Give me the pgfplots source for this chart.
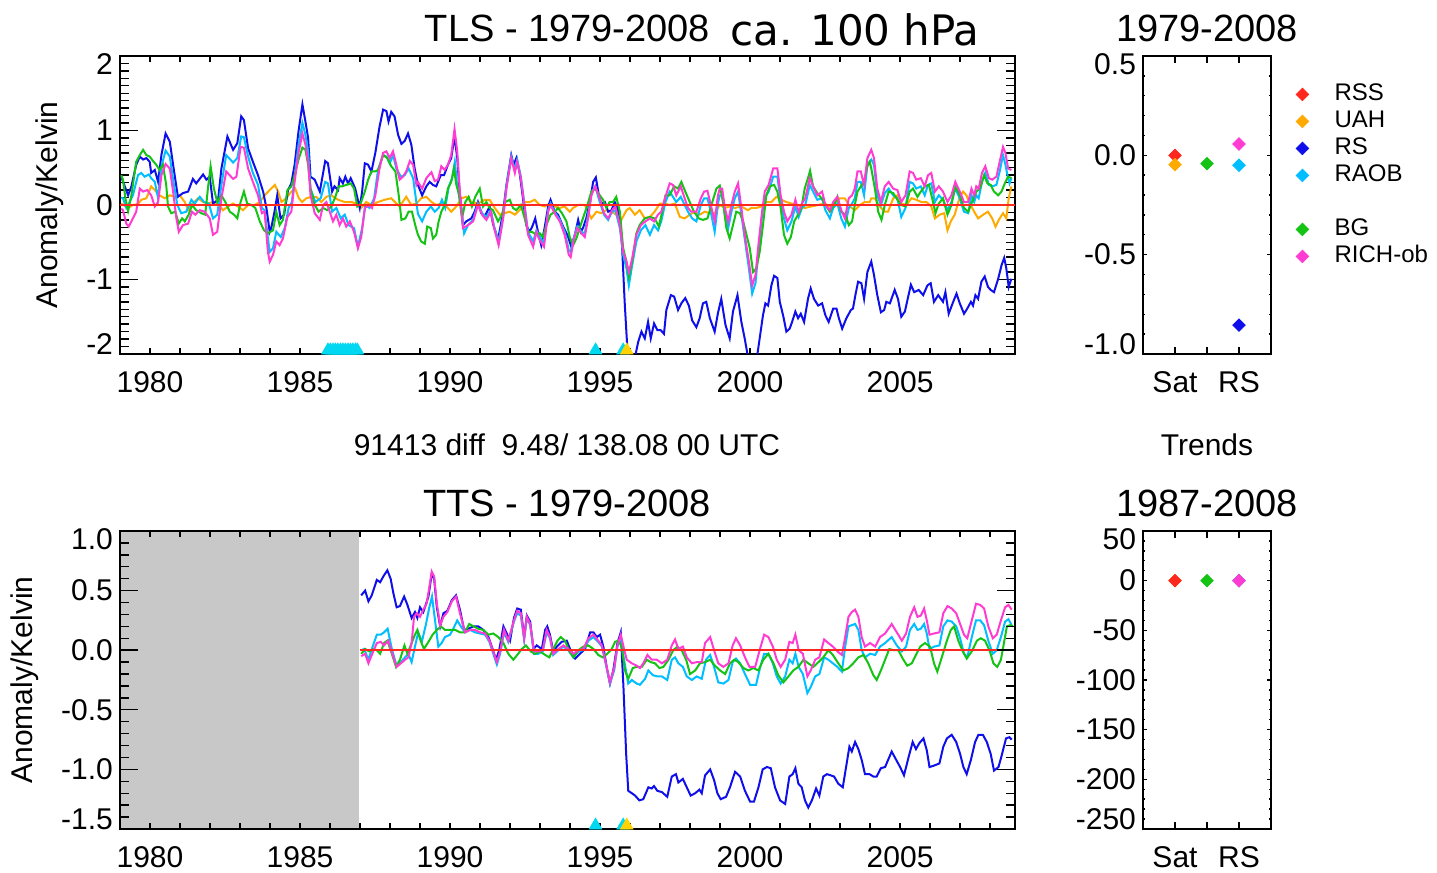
\documentclass[border=0pt]{standalone}
\usepackage{fontspec}
\setmainfont{Liberation Sans}
\newfontfamily\comicfont{DejaVu Sans}
\usepackage{pgfplots}
\pgfplotsset{compat=1.18}
\definecolor{cRSS}{RGB}{255,40,30}
\definecolor{cUAH}{RGB}{255,170,0}
\definecolor{cRS}{RGB}{15,15,235}
\definecolor{cRAOB}{RGB}{0,190,255}
\definecolor{cBG}{RGB}{20,195,20}
\definecolor{cRICH}{RGB}{255,60,210}
\definecolor{cTri}{RGB}{0,215,240}
\definecolor{cYel}{RGB}{255,210,0}
\definecolor{cGray}{RGB}{200,200,200}
\newcommand{\fs}[1]{\fontsize{#1}{#1}\selectfont}
\newcommand{\toplab}[1]{\smash{\raisebox{-9.5pt}{#1}}}
\newcommand{\botlab}[1]{\smash{\raisebox{-0.5pt}{#1}}}
\pgfplotsset{
  every axis/.append style={
    scale only axis, anchor=south west,
    axis line style={line width=0.7pt},
    tick style={line width=0.7pt, black},
    tick label style={font=\fs{15}},
    xticklabel style={yshift=-5pt},
  },
  ts/.style={width=447.5pt, height=149pt, xmin=1979, xmax=2008.83,
    xtick={1980,1985,1990,1995,2000,2005}, xticklabels={1980,1985,1990,1995,2000,2005},
    minor xtick={1979,...,2008},
    xtick style={/pgfplots/major tick length=3pt,/pgfplots/minor tick length=3pt},
    ytick style={/pgfplots/major tick length=9pt,/pgfplots/minor tick length=4.5pt}},
  tr/.style={width=64pt, height=149pt, xmin=0, xmax=4, xtick={1,2,3}, xticklabels={Sat,,RS},
    xtick style={/pgfplots/major tick length=3.5pt,/pgfplots/minor tick length=3.5pt},
    ytick style={/pgfplots/major tick length=2pt,/pgfplots/minor tick length=1pt}},
  ln/.style={line width=1pt},
  dm/.style={only marks, mark=square*, mark size=2.2pt, mark options={rotate=45}},
  tri/.style={only marks, mark=triangle*, mark size=3.6pt},
}
\begin{document}
\begin{tikzpicture}
\useasboundingbox (0,0) rectangle (718.5pt,436.5pt);
% ---------------- TLS time series
\begin{axis}[ts, at={(60pt,259.5pt)}, ymin=-2, ymax=2,
  ytick={-2,-1,0,1,2}, yticklabels={\botlab{-2},-1,0,1,\toplab{2}},
  minor ytick={-1.9,-1.8,...,1.95}]
\addplot[cUAH, ln] coordinates {(1979.04,0.02) (1979.27,-0.04) (1979.43,0.0) (1979.6,0.01) (1979.71,0.07) (1979.88,0.09) (1980.04,0.25) (1980.16,0.20) (1980.32,0.13) (1980.49,0.09) (1980.66,0.13) (1980.82,0.11) (1980.99,0.13) (1981.16,0.04) (1981.27,-0.07) (1981.43,0.02) (1981.6,0.09) (1981.77,0.04) (1981.93,0.02) (1982.1,0.04) (1982.27,0.02) (1982.43,-0.07) (1982.6,-0.02) (1982.77,0.02) (1982.93,-0.02) (1983.1,-0.07) (1983.27,0.0) (1983.49,0.0) (1983.66,0.04) (1983.82,0.13) (1983.99,0.20) (1984.16,0.27) (1984.27,0.18) (1984.38,0.04) (1984.54,0.09) (1984.71,0.18) (1984.84,0.22) (1984.96,0.09) (1985.07,0.04) (1985.21,0.09) (1985.38,0.11) (1985.54,0.11) (1985.71,0.04) (1985.88,0.11) (1986.04,0.13) (1986.27,0.07) (1986.49,0.04) (1986.71,0.04) (1986.88,0.02) (1987.04,-0.04) (1987.21,0.04) (1987.38,0.0) (1987.6,0.04) (1987.82,0.07) (1988.04,0.09) (1988.21,0.02) (1988.32,-0.02) (1988.54,0.11) (1988.71,0.0) (1988.88,0.02) (1989.04,0.09) (1989.21,0.11) (1989.38,0.04) (1989.54,0.0) (1989.71,0.02) (1989.88,-0.02) (1990.04,-0.09) (1990.21,-0.02) (1990.38,0.09) (1990.54,0.11) (1990.71,0.04) (1990.93,0.02) (1991.16,0.07) (1991.32,0.07) (1991.49,-0.04) (1991.66,-0.13) (1991.82,-0.11) (1991.99,-0.09) (1992.16,-0.13) (1992.32,-0.07) (1992.49,0.04) (1992.66,0.04) (1992.82,0.07) (1992.99,0.0) (1993.16,-0.02) (1993.32,0.02) (1993.49,-0.02) (1993.66,-0.04) (1993.82,-0.02) (1993.99,-0.09) (1994.1,-0.04) (1994.27,0.0) (1994.49,0.0) (1994.71,-0.18) (1994.88,-0.09) (1995.04,-0.11) (1995.21,-0.07) (1995.38,-0.09) (1995.54,-0.13) (1995.71,-0.20) (1995.88,-0.07) (1995.99,-0.04) (1996.16,-0.13) (1996.32,-0.07) (1996.49,-0.18) (1996.66,-0.16) (1996.82,-0.09) (1996.99,0.02) (1997.16,0.02) (1997.32,0.0) (1997.49,0.02) (1997.66,-0.16) (1997.82,-0.18) (1997.99,-0.13) (1998.16,-0.09) (1998.32,-0.13) (1998.49,-0.09) (1998.66,-0.11) (1998.82,-0.11) (1998.99,0.0) (1999.16,-0.04) (1999.32,-0.02) (1999.49,-0.04) (1999.71,-0.02) (1999.93,-0.07) (2000.04,-0.04) (2000.21,-0.04) (2000.38,-0.02) (2000.54,0.04) (2000.71,0.04) (2000.88,0.11) (2001.04,0.07) (2001.21,0.04) (2001.38,0.02) (2001.6,0.0) (2001.82,-0.04) (2002.04,-0.02) (2002.27,0.0) (2002.49,0.02) (2002.66,-0.02) (2002.82,0.02) (2002.99,0.09) (2003.16,0.09) (2003.32,-0.02) (2003.49,-0.07) (2003.66,0.0) (2003.82,0.04) (2003.99,0.04) (2004.04,0.09) (2004.16,0.09) (2004.32,-0.02) (2004.49,-0.09) (2004.6,-0.09) (2004.77,0.09) (2004.91,0.13) (2005.04,0.02) (2005.21,0.0) (2005.38,0.09) (2005.54,0.07) (2005.71,0.04) (2005.88,0.04) (2006.04,-0.02) (2006.16,-0.18) (2006.32,-0.13) (2006.47,-0.11) (2006.58,-0.34) (2006.69,-0.22) (2006.82,-0.13) (2006.99,0.11) (2007.1,0.18) (2007.21,0.13) (2007.32,0.02) (2007.47,-0.09) (2007.6,-0.18) (2007.77,-0.13) (2007.93,-0.09) (2008.07,-0.18) (2008.18,-0.29) (2008.29,-0.20) (2008.43,-0.11) (2008.54,-0.18) (2008.62,0.09) (2008.71,0.25)};
\addplot[cRS, ln] coordinates {(1979.04,0.38) (1979.27,0.13) (1979.38,0.25) (1979.54,0.54) (1979.66,0.65) (1979.77,0.61) (1979.88,0.63) (1979.99,0.58) (1980.04,0.43) (1980.16,0.47) (1980.27,0.31) (1980.38,0.67) (1980.52,0.96) (1980.66,0.85) (1980.77,0.54) (1980.93,0.11) (1981.1,0.16) (1981.27,0.18) (1981.43,0.35) (1981.54,0.29) (1981.77,0.41) (1981.88,0.34) (1981.99,0.38) (1982.1,0.02) (1982.27,0.07) (1982.38,0.49) (1982.58,0.92) (1982.77,0.74) (1982.91,0.83) (1983.04,1.19) (1983.13,1.14) (1983.27,0.76) (1983.43,0.58) (1983.6,0.40) (1983.77,0.18) (1983.88,-0.04) (1983.99,-0.36) (1984.04,-0.31) (1984.15,-0.09) (1984.24,0.13) (1984.35,-0.18) (1984.47,-0.13) (1984.6,0.20) (1984.71,0.29) (1984.82,0.54) (1984.95,0.99) (1985.08,1.35) (1985.18,1.12) (1985.27,0.90) (1985.35,0.38) (1985.49,0.34) (1985.66,0.18) (1985.84,0.59) (1985.93,0.56) (1986.07,0.18) (1986.15,0.25) (1986.27,0.20) (1986.32,0.36) (1986.43,0.29) (1986.51,0.38) (1986.6,0.29) (1986.69,0.36) (1986.84,0.22) (1986.99,-0.04) (1987.07,0.18) (1987.16,0.56) (1987.27,0.54) (1987.38,0.45) (1987.51,0.70) (1987.65,1.05) (1987.77,1.28) (1987.88,1.26) (1987.95,1.12) (1988.04,1.25) (1988.15,1.19) (1988.27,0.94) (1988.38,0.82) (1988.49,0.86) (1988.6,0.96) (1988.71,0.81) (1988.82,0.49) (1988.93,0.27) (1989.07,0.13) (1989.21,0.25) (1989.32,0.31) (1989.43,0.27) (1989.54,0.25) (1989.69,0.40) (1989.8,0.40) (1989.93,0.54) (1990.04,0.63) (1990.15,0.92) (1990.24,0.63) (1990.32,0.18) (1990.43,-0.27) (1990.54,-0.22) (1990.71,-0.18) (1990.82,-0.09) (1990.93,0.04) (1991.04,-0.11) (1991.15,-0.16) (1991.32,-0.02) (1991.43,-0.25) (1991.6,-0.47) (1991.77,-0.09) (1991.88,0.27) (1992.04,0.67) (1992.12,0.54) (1992.21,0.63) (1992.32,0.43) (1992.43,0.09) (1992.54,-0.27) (1992.65,-0.36) (1992.74,-0.29) (1992.84,-0.18) (1992.93,-0.36) (1993.04,-0.54) (1993.15,-0.31) (1993.27,-0.02) (1993.35,0.07) (1993.49,-0.09) (1993.6,-0.13) (1993.77,-0.29) (1993.93,-0.42) (1994.04,-0.56) (1994.16,-0.40) (1994.27,-0.20) (1994.36,-0.36) (1994.43,-0.31) (1994.54,-0.18) (1994.66,0.04) (1994.77,0.31) (1994.86,0.37) (1994.96,0.13) (1995.04,0.02) (1995.16,0.04) (1995.27,-0.09) (1995.38,-0.07) (1995.49,0.04) (1995.58,-0.04) (1995.66,-0.18) (1995.73,-0.52) (1995.82,-1.30) (1995.91,-1.93) (1995.99,-2.1) (1996.16,-2.05) (1996.27,-1.84) (1996.38,-1.70) (1996.49,-1.79) (1996.6,-1.57) (1996.69,-1.79) (1996.8,-1.59) (1996.91,-1.68) (1997.02,-1.68) (1997.13,-1.73) (1997.21,-1.41) (1997.36,-1.21) (1997.47,-1.23) (1997.6,-1.41) (1997.71,-1.32) (1997.84,-1.25) (1997.96,-1.35) (1998.07,-1.55) (1998.21,-1.64) (1998.32,-1.52) (1998.43,-1.32) (1998.54,-1.30) (1998.66,-1.52) (1998.82,-1.70) (1998.93,-1.45) (1999.04,-1.26) (1999.18,-1.61) (1999.32,-1.79) (1999.43,-1.43) (1999.58,-1.21) (1999.71,-1.57) (1999.82,-1.79) (1999.93,-2.04) (2000.04,-2.1) (2000.21,-2.1) (2000.32,-1.79) (2000.43,-1.48) (2000.51,-1.32) (2000.6,-1.35) (2000.71,-1.08) (2000.8,-0.95) (2000.91,-0.98) (2000.99,-1.30) (2001.1,-1.48) (2001.21,-1.70) (2001.32,-1.66) (2001.4,-1.57) (2001.51,-1.43) (2001.6,-1.52) (2001.69,-1.46) (2001.8,-1.57) (2001.93,-1.26) (2002.02,-1.12) (2002.13,-1.26) (2002.27,-1.35) (2002.4,-1.32) (2002.51,-1.48) (2002.62,-1.57) (2002.77,-1.39) (2002.88,-1.39) (2002.96,-1.52) (2003.07,-1.66) (2003.21,-1.52) (2003.36,-1.41) (2003.43,-1.39) (2003.51,-1.21) (2003.6,-1.03) (2003.71,-1.05) (2003.8,-1.26) (2003.91,-0.90) (2004.04,-0.76) (2004.13,-0.94) (2004.24,-1.21) (2004.36,-1.44) (2004.47,-1.41) (2004.54,-1.30) (2004.66,-1.32) (2004.82,-1.14) (2004.93,-1.26) (2005.04,-1.50) (2005.16,-1.43) (2005.27,-1.23) (2005.36,-1.07) (2005.47,-1.17) (2005.62,-1.14) (2005.77,-1.21) (2005.91,-1.08) (2006.02,-1.05) (2006.13,-1.30) (2006.27,-1.21) (2006.43,-1.30) (2006.51,-1.17) (2006.62,-1.46) (2006.77,-1.30) (2006.88,-1.19) (2006.99,-1.32) (2007.13,-1.46) (2007.24,-1.39) (2007.36,-1.30) (2007.43,-1.35) (2007.51,-1.21) (2007.6,-1.26) (2007.71,-1.03) (2007.82,-0.96) (2007.93,-1.10) (2008.02,-1.14) (2008.13,-1.17) (2008.27,-0.99) (2008.38,-0.81) (2008.47,-0.71) (2008.54,-0.85) (2008.62,-1.10) (2008.71,-0.99)};
\addplot[cRAOB, ln] coordinates {(1979.04,0.10) (1979.1,0.09) (1979.21,-0.04) (1979.32,0.04) (1979.43,0.13) (1979.6,0.40) (1979.71,0.43) (1979.82,0.38) (1979.96,0.41) (1980.04,0.36) (1980.16,0.31) (1980.27,0.09) (1980.38,0.52) (1980.52,0.73) (1980.66,0.65) (1980.77,0.34) (1980.91,0.0) (1981.04,-0.11) (1981.21,-0.09) (1981.38,0.07) (1981.49,0.02) (1981.66,0.11) (1981.8,0.04) (1981.96,0.02) (1982.1,-0.18) (1982.24,-0.13) (1982.38,0.27) (1982.54,0.67) (1982.77,0.57) (1982.91,0.63) (1983.04,0.92) (1983.13,0.91) (1983.27,0.65) (1983.43,0.43) (1983.6,0.27) (1983.73,-0.04) (1983.82,-0.07) (1983.96,-0.54) (1983.99,-0.63) (1984.1,-0.58) (1984.21,-0.36) (1984.36,-0.43) (1984.49,-0.31) (1984.62,-0.04) (1984.73,0.04) (1984.84,0.45) (1984.95,0.81) (1985.08,1.10) (1985.18,0.94) (1985.27,0.72) (1985.35,0.22) (1985.51,0.04) (1985.69,0.09) (1985.84,0.31) (1985.93,0.29) (1986.07,-0.09) (1986.21,-0.04) (1986.36,-0.18) (1986.49,-0.13) (1986.62,-0.27) (1986.8,-0.31) (1986.93,-0.56) (1987.07,-0.31) (1987.18,0.0) (1987.32,-0.04) (1987.47,0.09) (1987.6,0.47) (1987.77,0.67) (1987.88,0.65) (1987.99,0.56) (1988.1,0.67) (1988.21,0.49) (1988.36,0.38) (1988.49,0.40) (1988.62,0.49) (1988.77,0.36) (1988.93,-0.12) (1989.07,-0.22) (1989.21,-0.09) (1989.36,-0.02) (1989.49,-0.09) (1989.62,-0.04) (1989.73,0.07) (1989.84,-0.04) (1989.96,0.25) (1990.07,0.36) (1990.16,0.58) (1990.24,0.25) (1990.36,0.0) (1990.47,-0.38) (1990.6,-0.27) (1990.77,-0.20) (1990.93,0.02) (1991.07,-0.11) (1991.21,-0.16) (1991.36,-0.07) (1991.47,-0.29) (1991.62,-0.49) (1991.77,-0.16) (1991.88,0.25) (1992.04,0.65) (1992.16,0.47) (1992.24,0.61) (1992.36,0.38) (1992.49,-0.02) (1992.6,-0.36) (1992.77,-0.49) (1992.88,-0.34) (1992.96,-0.40) (1993.13,-0.52) (1993.27,-0.07) (1993.35,0.02) (1993.51,-0.11) (1993.66,-0.20) (1993.82,-0.36) (1993.96,-0.61) (1994.02,-0.63) (1994.13,-0.43) (1994.24,-0.29) (1994.38,-0.36) (1994.49,-0.38) (1994.6,-0.13) (1994.73,0.18) (1994.84,0.25) (1994.99,0.04) (1995.13,-0.13) (1995.27,-0.20) (1995.4,-0.09) (1995.51,-0.07) (1995.66,-0.31) (1995.77,-0.67) (1995.88,-0.85) (1995.96,-1.08) (1996.07,-0.81) (1996.21,-0.49) (1996.36,-0.34) (1996.51,-0.27) (1996.66,-0.40) (1996.8,-0.27) (1996.93,-0.34) (1997.04,-0.22) (1997.18,0.04) (1997.32,0.18) (1997.43,0.11) (1997.54,0.04) (1997.69,0.11) (1997.82,0.0) (1997.93,-0.09) (1998.07,-0.18) (1998.21,-0.22) (1998.36,0.0) (1998.47,0.09) (1998.58,0.09) (1998.69,-0.09) (1998.82,-0.36) (1998.93,0.02) (1998.99,0.13) (1999.07,0.13) (1999.16,-0.13) (1999.27,-0.31) (1999.38,-0.09) (1999.49,0.09) (1999.6,0.18) (1999.71,-0.13) (1999.82,-0.45) (1999.96,-0.85) (2000.07,-1.19) (2000.18,-1.05) (2000.29,-0.58) (2000.4,-0.13) (2000.49,0.09) (2000.62,0.18) (2000.77,0.38) (2000.91,0.38) (2001.02,0.04) (2001.13,-0.18) (2001.24,-0.34) (2001.38,-0.22) (2001.51,-0.02) (2001.62,-0.16) (2001.73,-0.04) (2001.84,0.0) (2001.99,0.27) (2002.1,0.18) (2002.24,0.07) (2002.4,0.09) (2002.51,-0.07) (2002.66,-0.18) (2002.77,-0.04) (2002.91,0.02) (2003.04,-0.18) (2003.16,-0.29) (2003.29,-0.04) (2003.4,0.02) (2003.49,0.09) (2003.58,0.31) (2003.69,0.31) (2003.8,0.13) (2003.91,0.54) (2004.04,0.61) (2004.13,0.54) (2004.24,0.13) (2004.36,0.0) (2004.49,0.16) (2004.62,0.22) (2004.77,0.13) (2004.91,0.09) (2005.04,-0.16) (2005.18,-0.04) (2005.32,0.31) (2005.43,0.29) (2005.54,0.22) (2005.69,0.25) (2005.82,0.13) (2005.93,0.27) (2006.04,0.29) (2006.16,0.04) (2006.29,0.13) (2006.43,0.07) (2006.58,-0.07) (2006.71,0.04) (2006.84,0.22) (2006.99,0.09) (2007.13,-0.09) (2007.27,-0.11) (2007.38,0.13) (2007.47,0.04) (2007.54,0.13) (2007.62,0.09) (2007.73,0.31) (2007.84,0.43) (2007.96,0.27) (2008.07,0.25) (2008.21,0.27) (2008.32,0.45) (2008.43,0.67) (2008.51,0.54) (2008.6,0.36) (2008.65,0.29) (2008.71,0.36)};
\addplot[cBG, ln] coordinates {(1979.04,0.40) (1979.1,0.34) (1979.18,0.09) (1979.27,-0.08) (1979.38,0.13) (1979.54,0.58) (1979.66,0.67) (1979.77,0.74) (1979.88,0.67) (1979.99,0.65) (1980.1,0.59) (1980.21,0.54) (1980.32,0.47) (1980.43,0.54) (1980.54,0.27) (1980.6,-0.02) (1980.71,-0.11) (1980.84,-0.09) (1980.96,-0.25) (1981.07,-0.18) (1981.16,-0.22) (1981.29,-0.13) (1981.4,0.0) (1981.54,-0.07) (1981.71,-0.11) (1981.84,-0.13) (1981.93,0.22) (1982.02,0.52) (1982.13,0.22) (1982.24,0.04) (1982.38,0.13) (1982.51,0.04) (1982.66,-0.09) (1982.8,-0.13) (1982.91,-0.18) (1983.02,0.04) (1983.13,0.18) (1983.24,0.02) (1983.38,0.0) (1983.51,-0.04) (1983.66,-0.22) (1983.8,-0.34) (1983.93,-0.38) (1984.1,-0.34) (1984.21,-0.09) (1984.32,-0.27) (1984.43,-0.20) (1984.58,0.20) (1984.71,0.25) (1984.82,0.40) (1984.95,0.61) (1985.08,0.77) (1985.18,0.74) (1985.27,0.54) (1985.35,0.22) (1985.49,0.0) (1985.62,-0.09) (1985.77,-0.04) (1985.91,-0.07) (1986.04,-0.02) (1986.16,0.09) (1986.29,0.25) (1986.4,0.25) (1986.54,0.27) (1986.69,0.29) (1986.8,0.22) (1986.91,-0.02) (1987.02,0.02) (1987.16,0.18) (1987.27,0.34) (1987.38,0.45) (1987.51,0.45) (1987.6,0.47) (1987.77,0.67) (1987.91,0.63) (1988.04,0.52) (1988.18,0.45) (1988.29,0.13) (1988.38,-0.20) (1988.51,-0.18) (1988.62,-0.09) (1988.73,-0.09) (1988.84,-0.27) (1988.93,-0.40) (1989.04,-0.49) (1989.16,-0.52) (1989.24,-0.29) (1989.36,-0.31) (1989.43,-0.45) (1989.54,-0.40) (1989.62,-0.22) (1989.71,-0.09) (1989.82,0.0) (1989.93,0.22) (1990.04,0.31) (1990.13,0.49) (1990.21,0.27) (1990.29,0.16) (1990.4,-0.18) (1990.51,0.04) (1990.62,0.11) (1990.73,-0.02) (1990.84,0.11) (1990.99,0.22) (1991.1,-0.02) (1991.21,0.04) (1991.32,-0.04) (1991.43,-0.07) (1991.6,-0.22) (1991.73,-0.13) (1991.84,0.04) (1991.99,0.07) (1992.1,-0.04) (1992.21,-0.07) (1992.36,0.0) (1992.49,-0.18) (1992.6,-0.36) (1992.73,-0.36) (1992.88,-0.40) (1992.99,-0.38) (1993.1,-0.43) (1993.21,-0.27) (1993.35,-0.13) (1993.49,-0.09) (1993.6,-0.04) (1993.73,-0.11) (1993.88,-0.22) (1993.99,-0.43) (1994.1,-0.54) (1994.21,-0.45) (1994.32,-0.31) (1994.47,-0.13) (1994.58,0.0) (1994.71,0.18) (1994.84,0.22) (1994.99,0.13) (1995.1,0.07) (1995.21,-0.04) (1995.32,0.04) (1995.43,0.04) (1995.54,0.11) (1995.66,-0.09) (1995.77,-0.58) (1995.88,-0.76) (1995.96,-0.96) (1996.07,-0.76) (1996.21,-0.38) (1996.32,-0.27) (1996.49,-0.18) (1996.66,-0.16) (1996.82,-0.18) (1996.96,-0.29) (1997.07,-0.09) (1997.18,0.13) (1997.32,0.13) (1997.47,0.25) (1997.6,0.22) (1997.71,0.31) (1997.84,0.18) (1997.99,0.04) (1998.13,-0.09) (1998.29,-0.18) (1998.43,-0.20) (1998.58,-0.18) (1998.71,0.0) (1998.88,0.22) (1998.99,0.26) (1999.1,0.04) (1999.21,-0.31) (1999.32,-0.45) (1999.43,-0.27) (1999.54,-0.09) (1999.66,-0.11) (1999.77,-0.22) (1999.88,-0.40) (1999.99,-0.58) (2000.1,-0.90) (2000.21,-0.85) (2000.32,-0.63) (2000.43,-0.27) (2000.54,0.13) (2000.66,0.25) (2000.8,0.27) (2000.91,0.18) (2001.02,-0.04) (2001.13,-0.40) (2001.24,-0.52) (2001.36,-0.43) (2001.47,-0.22) (2001.6,-0.13) (2001.71,-0.04) (2001.82,0.22) (2001.93,0.36) (2002.0,0.46) (2002.1,0.25) (2002.24,0.16) (2002.38,0.09) (2002.51,0.0) (2002.66,-0.09) (2002.8,0.0) (2002.91,0.11) (2003.04,-0.09) (2003.18,-0.13) (2003.29,-0.27) (2003.4,-0.22) (2003.49,0.0) (2003.58,0.18) (2003.69,0.25) (2003.8,0.31) (2003.91,0.52) (2003.99,0.58) (2004.04,0.49) (2004.16,0.22) (2004.27,-0.09) (2004.38,-0.20) (2004.49,0.0) (2004.62,0.18) (2004.77,0.16) (2004.91,0.07) (2005.04,0.0) (2005.18,-0.02) (2005.32,0.18) (2005.43,0.22) (2005.58,0.11) (2005.69,0.18) (2005.82,0.25) (2005.96,0.27) (2006.07,0.09) (2006.18,-0.11) (2006.29,0.02) (2006.43,0.09) (2006.58,-0.13) (2006.71,0.0) (2006.84,0.25) (2006.99,0.13) (2007.13,-0.04) (2007.27,-0.09) (2007.4,0.04) (2007.54,0.18) (2007.66,0.22) (2007.8,0.40) (2007.91,0.29) (2008.02,0.27) (2008.13,0.18) (2008.27,0.13) (2008.38,0.18) (2008.49,0.29) (2008.6,0.38) (2008.71,0.36)};
\addplot[cRICH, ln] coordinates {(1979.04,-0.05) (1979.1,-0.07) (1979.21,-0.25) (1979.29,-0.29) (1979.43,-0.18) (1979.54,-0.09) (1979.66,0.22) (1979.77,0.18) (1979.91,0.20) (1980.04,0.13) (1980.16,-0.02) (1980.27,0.04) (1980.38,0.40) (1980.52,0.55) (1980.66,0.49) (1980.77,0.18) (1980.88,-0.18) (1980.96,-0.36) (1981.1,-0.27) (1981.27,-0.25) (1981.4,-0.09) (1981.51,-0.13) (1981.66,-0.07) (1981.82,-0.09) (1981.99,-0.18) (1982.1,-0.40) (1982.24,-0.36) (1982.38,0.09) (1982.54,0.45) (1982.77,0.35) (1982.88,0.38) (1983.02,0.78) (1983.13,0.77) (1983.27,0.49) (1983.43,0.31) (1983.6,0.13) (1983.73,-0.11) (1983.82,-0.09) (1983.93,-0.63) (1983.99,-0.76) (1984.1,-0.67) (1984.21,-0.49) (1984.32,-0.54) (1984.43,-0.45) (1984.58,-0.16) (1984.71,-0.09) (1984.82,0.31) (1984.95,0.70) (1985.08,0.96) (1985.18,0.81) (1985.27,0.58) (1985.35,0.13) (1985.49,-0.11) (1985.66,-0.20) (1985.77,0.0) (1985.88,0.04) (1985.99,-0.09) (1986.1,-0.22) (1986.21,-0.13) (1986.32,-0.27) (1986.43,-0.18) (1986.54,-0.29) (1986.66,-0.22) (1986.8,-0.36) (1986.93,-0.58) (1987.04,-0.43) (1987.16,-0.04) (1987.29,0.0) (1987.4,-0.04) (1987.51,0.13) (1987.65,0.49) (1987.77,0.70) (1987.88,0.72) (1987.99,0.63) (1988.1,0.72) (1988.21,0.54) (1988.32,0.34) (1988.43,0.38) (1988.54,0.45) (1988.66,0.59) (1988.77,0.54) (1988.88,0.27) (1988.93,0.31) (1989.07,0.22) (1989.21,0.36) (1989.38,0.44) (1989.49,0.32) (1989.6,0.34) (1989.71,0.52) (1989.82,0.47) (1989.93,0.54) (1990.04,0.67) (1990.15,1.02) (1990.24,0.72) (1990.32,0.22) (1990.43,-0.31) (1990.6,-0.27) (1990.77,-0.22) (1990.93,0.0) (1991.07,-0.13) (1991.21,-0.20) (1991.36,-0.09) (1991.47,-0.31) (1991.62,-0.54) (1991.77,-0.18) (1991.88,0.22) (1992.04,0.63) (1992.16,0.43) (1992.24,0.58) (1992.36,0.36) (1992.49,-0.04) (1992.6,-0.40) (1992.77,-0.56) (1992.88,-0.36) (1992.96,-0.45) (1993.13,-0.56) (1993.27,-0.09) (1993.35,0.0) (1993.51,-0.13) (1993.66,-0.22) (1993.82,-0.40) (1993.96,-0.67) (1994.02,-0.70) (1994.13,-0.45) (1994.24,-0.31) (1994.38,-0.38) (1994.49,-0.43) (1994.6,-0.18) (1994.71,0.13) (1994.84,0.25) (1994.99,0.09) (1995.13,-0.11) (1995.27,-0.18) (1995.4,-0.07) (1995.51,-0.02) (1995.66,-0.27) (1995.77,-0.63) (1995.88,-0.76) (1995.96,-0.90) (1996.07,-0.72) (1996.21,-0.40) (1996.36,-0.27) (1996.51,-0.22) (1996.66,-0.18) (1996.8,-0.22) (1996.93,-0.13) (1997.04,-0.09) (1997.18,0.11) (1997.32,0.29) (1997.43,0.27) (1997.54,0.13) (1997.69,0.25) (1997.82,0.09) (1997.93,-0.04) (1998.04,-0.09) (1998.21,-0.09) (1998.36,0.09) (1998.47,0.18) (1998.58,0.19) (1998.69,0.0) (1998.82,-0.22) (1998.93,0.13) (1998.99,0.22) (1999.07,0.22) (1999.16,-0.04) (1999.27,-0.22) (1999.38,0.0) (1999.49,0.18) (1999.6,0.29) (1999.71,-0.04) (1999.82,-0.40) (1999.96,-0.76) (2000.07,-1.08) (2000.18,-0.94) (2000.29,-0.49) (2000.4,-0.09) (2000.49,0.18) (2000.62,0.27) (2000.77,0.49) (2000.91,0.49) (2001.02,0.13) (2001.13,-0.09) (2001.24,-0.22) (2001.38,-0.13) (2001.51,0.07) (2001.62,-0.09) (2001.73,0.02) (2001.84,0.09) (2001.99,0.36) (2002.1,0.25) (2002.24,0.13) (2002.4,0.18) (2002.51,0.0) (2002.66,-0.07) (2002.77,0.04) (2002.91,0.11) (2003.04,-0.07) (2003.16,-0.18) (2003.29,0.09) (2003.4,0.13) (2003.49,0.22) (2003.58,0.45) (2003.69,0.45) (2003.8,0.27) (2003.91,0.63) (2004.04,0.74) (2004.13,0.63) (2004.24,0.22) (2004.36,0.04) (2004.49,0.25) (2004.62,0.31) (2004.77,0.22) (2004.91,0.20) (2005.04,0.04) (2005.18,0.13) (2005.32,0.45) (2005.43,0.43) (2005.54,0.34) (2005.69,0.36) (2005.82,0.25) (2005.93,0.40) (2006.04,0.43) (2006.16,0.18) (2006.29,0.25) (2006.43,0.18) (2006.58,0.04) (2006.71,0.13) (2006.84,0.31) (2006.99,0.18) (2007.13,0.04) (2007.27,0.04) (2007.38,0.22) (2007.47,0.13) (2007.54,0.25) (2007.62,0.22) (2007.73,0.43) (2007.84,0.52) (2007.96,0.36) (2008.07,0.34) (2008.21,0.38) (2008.32,0.58) (2008.43,0.78) (2008.51,0.70) (2008.6,0.49) (2008.71,0.47)};
\addplot[cRSS, line width=1.2pt] coordinates {(1979,0) (2008.83,0)};
\addplot[tri, cTri] coordinates {(1985.93,-1.95) (1986.01,-1.95) (1986.10,-1.95) (1986.18,-1.95) (1986.26,-1.95) (1986.35,-1.95) (1986.43,-1.95) (1986.51,-1.95) (1986.60,-1.95) (1986.68,-1.95) (1986.76,-1.95) (1986.85,-1.95) (1986.91,-1.95) (1994.85,-1.95) (1995.77,-1.95)};
\addplot[tri, cYel] coordinates {(1995.89,-1.95)};
\end{axis}
% ---------------- TLS trends
\begin{axis}[tr, at={(571.5pt,259.5pt)}, ymin=-1, ymax=0.5,
  ytick={-1,-0.5,0,0.5}, yticklabels={\botlab{-1.0},-0.5,0.0,\toplab{0.5}},
  minor ytick={-0.9,-0.8,...,0.45},
  legend style={at={(1.109,0.911)}, anchor=north west, draw=none, fill=none, inner sep=0pt,
    font=\fs{12}, column sep=13pt, row sep=2pt, nodes={inner sep=0pt, text height=9pt, text depth=2.5pt}},
  legend cell align=left]
\addplot[dm, cRSS] coordinates {(1,0.0)}; \addlegendentry{RSS}
\addplot[dm, cUAH] coordinates {(1,-0.047)}; \addlegendentry{UAH}
\addplot[dm, cRS] coordinates {(3,-0.855)}; \addlegendentry{RS}
\addplot[dm, cRAOB] coordinates {(3,-0.05)}; \addlegendentry{RAOB}
\addlegendimage{empty legend}\addlegendentry{~}
\addplot[dm, cBG] coordinates {(2,-0.042)}; \addlegendentry{BG}
\addplot[dm, cRICH] coordinates {(3,0.057)}; \addlegendentry{RICH-ob}
\end{axis}
% ---------------- TTS time series
\begin{axis}[ts, at={(60pt,22pt)}, ymin=-1.5, ymax=1.0, axis on top,
  ytick={-1.5,-1,-0.5,0,0.5,1}, yticklabels={\botlab{-1.5},-1.0,-0.5,0.0,0.5,\toplab{1.0}},
  minor ytick={-1.4,-1.3,...,0.95}]
\addplot[fill=cGray, draw=none] coordinates {(1979,-1.5) (1979,1.0) (1986.97,1.0) (1986.97,-1.5)} -- cycle;
\addplot[cRS, ln] coordinates {(1987.04,0.46) (1987.17,0.50) (1987.28,0.41) (1987.39,0.46) (1987.56,0.59) (1987.67,0.57) (1987.78,0.62) (1987.91,0.67) (1988.02,0.60) (1988.11,0.48) (1988.22,0.36) (1988.33,0.37) (1988.47,0.45) (1988.58,0.38) (1988.72,0.27) (1988.83,0.32) (1988.91,0.27) (1989.0,0.36) (1989.11,0.32) (1989.28,0.45) (1989.39,0.64) (1989.47,0.60) (1989.56,0.36) (1989.67,0.20) (1989.78,0.31) (1989.91,0.33) (1990.06,0.42) (1990.2,0.46) (1990.33,0.34) (1990.47,0.17) (1990.61,0.18) (1990.78,0.20) (1990.94,0.20) (1991.11,0.17) (1991.28,0.11) (1991.42,0.01) (1991.53,-0.08) (1991.64,0.0) (1991.78,0.20) (1991.91,0.13) (1992.0,0.08) (1992.13,0.27) (1992.24,0.35) (1992.36,0.34) (1992.47,0.11) (1992.56,0.29) (1992.67,0.24) (1992.78,0.01) (1992.89,0.04) (1993.06,0.01) (1993.17,0.17) (1993.24,0.20) (1993.33,0.13) (1993.44,-0.01) (1993.56,0.03) (1993.72,0.07) (1993.89,0.08) (1994.0,0.01) (1994.17,-0.07) (1994.33,-0.03) (1994.5,0.01) (1994.67,0.15) (1994.78,0.15) (1994.89,0.11) (1995.0,0.13) (1995.11,0.03) (1995.22,-0.14) (1995.33,-0.28) (1995.44,-0.17) (1995.58,0.06) (1995.69,0.15) (1995.78,-0.31) (1995.87,-0.87) (1995.94,-1.18) (1996.06,-1.20) (1996.17,-1.22) (1996.31,-1.26) (1996.44,-1.25) (1996.61,-1.15) (1996.72,-1.16) (1996.8,-1.14) (1996.91,-1.18) (1997.06,-1.19) (1997.24,-1.23) (1997.39,-1.06) (1997.53,-1.04) (1997.61,-1.11) (1997.76,-1.08) (1997.89,-1.15) (1998.02,-1.22) (1998.17,-1.20) (1998.31,-1.17) (1998.39,-1.20) (1998.5,-1.05) (1998.67,-1.00) (1998.8,-1.09) (1998.91,-1.20) (1999.02,-1.25) (1999.2,-1.23) (1999.33,-1.15) (1999.5,-1.02) (1999.67,-1.06) (1999.83,-1.18) (2000.0,-1.27) (2000.13,-1.27) (2000.28,-1.15) (2000.42,-1.00) (2000.56,-0.98) (2000.69,-0.99) (2000.83,-1.15) (2001.0,-1.26) (2001.17,-1.29) (2001.31,-1.06) (2001.42,-1.04) (2001.51,-0.99) (2001.61,-1.12) (2001.72,-1.15) (2001.83,-1.26) (2001.94,-1.32) (2002.06,-1.26) (2002.2,-1.16) (2002.31,-1.22) (2002.44,-1.06) (2002.56,-1.04) (2002.69,-1.05) (2002.8,-1.06) (2002.94,-1.12) (2003.09,-1.15) (2003.2,-0.98) (2003.31,-0.81) (2003.39,-0.85) (2003.5,-0.77) (2003.61,-0.83) (2003.72,-0.92) (2003.83,-1.04) (2003.98,-1.04) (2004.11,-1.06) (2004.22,-1.06) (2004.36,-0.99) (2004.5,-0.98) (2004.72,-0.85) (2004.87,-0.92) (2005.0,-0.98) (2005.13,-1.05) (2005.28,-0.90) (2005.42,-0.77) (2005.53,-0.83) (2005.64,-0.78) (2005.78,-0.74) (2005.89,-0.84) (2005.98,-0.98) (2006.11,-0.97) (2006.31,-0.95) (2006.44,-0.81) (2006.56,-0.74) (2006.72,-0.71) (2006.87,-0.77) (2007.0,-0.87) (2007.11,-0.98) (2007.22,-1.04) (2007.36,-0.92) (2007.5,-0.77) (2007.61,-0.71) (2007.76,-0.71) (2007.89,-0.77) (2008.02,-0.87) (2008.13,-1.01) (2008.28,-0.98) (2008.39,-0.88) (2008.53,-0.74) (2008.64,-0.73) (2008.72,-0.75)};
\addplot[cRAOB, ln] coordinates {(1987.04,0.0) (1987.14,0.01) (1987.28,-0.08) (1987.42,0.03) (1987.56,0.13) (1987.69,0.13) (1987.8,0.15) (1987.92,0.18) (1988.06,0.01) (1988.22,-0.13) (1988.36,-0.10) (1988.5,-0.06) (1988.61,-0.03) (1988.72,-0.10) (1988.83,0.03) (1988.94,0.15) (1989.06,0.07) (1989.2,0.22) (1989.31,0.36) (1989.4,0.45) (1989.5,0.25) (1989.61,0.03) (1989.72,0.06) (1989.83,0.11) (1990.0,0.13) (1990.11,0.18) (1990.24,0.25) (1990.36,0.20) (1990.5,0.15) (1990.67,0.17) (1990.83,0.15) (1991.0,0.14) (1991.17,0.13) (1991.31,0.07) (1991.44,-0.03) (1991.56,-0.12) (1991.67,-0.03) (1991.8,0.15) (1991.94,0.07) (1992.13,0.24) (1992.24,0.31) (1992.36,0.29) (1992.47,0.09) (1992.56,0.27) (1992.67,0.21) (1992.8,-0.03) (1992.94,-0.03) (1993.09,-0.01) (1993.22,0.15) (1993.33,0.10) (1993.44,-0.04) (1993.61,0.0) (1993.78,0.03) (1993.94,0.0) (1994.11,-0.06) (1994.28,-0.01) (1994.44,0.0) (1994.61,0.08) (1994.78,0.11) (1994.94,0.07) (1995.06,0.03) (1995.22,-0.15) (1995.33,-0.28) (1995.47,-0.17) (1995.58,0.03) (1995.69,0.11) (1995.8,-0.08) (1995.94,-0.28) (1996.06,-0.25) (1996.22,-0.28) (1996.33,-0.29) (1996.5,-0.24) (1996.61,-0.17) (1996.76,-0.21) (1996.91,-0.22) (1997.06,-0.22) (1997.24,-0.25) (1997.39,-0.08) (1997.5,-0.06) (1997.61,-0.11) (1997.76,-0.14) (1997.89,-0.22) (1998.06,-0.25) (1998.22,-0.22) (1998.39,-0.24) (1998.53,-0.08) (1998.67,-0.04) (1998.8,-0.14) (1998.94,-0.27) (1999.11,-0.28) (1999.28,-0.25) (1999.42,-0.10) (1999.53,-0.07) (1999.67,-0.11) (1999.83,-0.20) (2000.0,-0.29) (2000.2,-0.29) (2000.33,-0.15) (2000.47,-0.03) (2000.61,-0.03) (2000.76,-0.11) (2000.89,-0.22) (2001.02,-0.28) (2001.17,-0.22) (2001.31,-0.08) (2001.42,-0.11) (2001.51,-0.03) (2001.62,-0.14) (2001.76,-0.20) (2001.91,-0.36) (2002.02,-0.31) (2002.17,-0.22) (2002.31,-0.20) (2002.47,-0.06) (2002.61,-0.08) (2002.76,-0.11) (2002.91,-0.14) (2003.06,-0.18) (2003.17,0.03) (2003.28,0.20) (2003.39,0.21) (2003.5,0.22) (2003.61,0.17) (2003.72,0.0) (2003.83,-0.06) (2004.0,-0.03) (2004.17,-0.04) (2004.33,0.03) (2004.5,0.06) (2004.72,0.11) (2004.89,0.04) (2005.06,-0.01) (2005.2,0.03) (2005.33,0.17) (2005.47,0.22) (2005.58,0.17) (2005.69,0.18) (2005.8,0.22) (2005.89,0.14) (2005.98,0.01) (2006.13,0.03) (2006.31,0.04) (2006.44,0.20) (2006.58,0.25) (2006.72,0.24) (2006.87,0.20) (2007.0,0.10) (2007.13,-0.03) (2007.24,-0.06) (2007.39,0.11) (2007.53,0.25) (2007.67,0.25) (2007.8,0.21) (2007.94,0.08) (2008.09,-0.03) (2008.22,0.0) (2008.36,0.11) (2008.5,0.24) (2008.61,0.26) (2008.72,0.21)};
\addplot[cBG, ln] coordinates {(1987.04,-0.03) (1987.17,0.01) (1987.31,-0.01) (1987.44,0.01) (1987.56,0.0) (1987.67,-0.03) (1987.8,0.06) (1987.91,0.08) (1988.06,-0.03) (1988.2,-0.14) (1988.33,-0.08) (1988.48,0.04) (1988.58,-0.03) (1988.72,0.06) (1988.83,0.13) (1988.91,0.17) (1989.02,0.08) (1989.13,0.01) (1989.28,0.07) (1989.42,0.13) (1989.56,0.17) (1989.69,0.20) (1989.83,0.17) (1990.0,0.17) (1990.17,0.17) (1990.33,0.15) (1990.5,0.15) (1990.64,0.22) (1990.78,0.20) (1990.94,0.18) (1991.11,0.17) (1991.28,0.13) (1991.44,0.14) (1991.61,0.11) (1991.78,0.06) (1991.94,-0.03) (1992.11,-0.08) (1992.24,-0.04) (1992.39,0.01) (1992.53,0.04) (1992.69,-0.01) (1992.83,-0.03) (1993.0,-0.01) (1993.17,-0.04) (1993.31,-0.06) (1993.44,0.01) (1993.58,0.08) (1993.69,0.11) (1993.83,0.08) (1993.98,-0.01) (1994.11,-0.06) (1994.28,0.0) (1994.44,0.03) (1994.61,0.04) (1994.78,0.01) (1994.94,-0.04) (1995.09,-0.06) (1995.24,-0.03) (1995.39,0.01) (1995.5,0.07) (1995.61,0.08) (1995.72,0.03) (1995.83,-0.17) (1995.94,-0.24) (1996.09,-0.15) (1996.22,-0.14) (1996.39,-0.14) (1996.56,-0.08) (1996.69,-0.10) (1996.83,-0.11) (1996.98,-0.15) (1997.11,-0.14) (1997.28,-0.08) (1997.44,0.0) (1997.58,0.03) (1997.72,0.0) (1997.87,-0.08) (1998.0,-0.20) (1998.17,-0.17) (1998.33,-0.11) (1998.5,-0.10) (1998.67,-0.08) (1998.83,-0.13) (1999.0,-0.17) (1999.17,-0.20) (1999.33,-0.11) (1999.47,-0.08) (1999.61,-0.10) (1999.78,-0.15) (1999.94,-0.17) (2000.11,-0.15) (2000.28,-0.17) (2000.44,-0.08) (2000.61,-0.03) (2000.78,-0.11) (2000.94,-0.21) (2001.11,-0.27) (2001.28,-0.22) (2001.44,-0.17) (2001.61,-0.14) (2001.78,-0.08) (2001.94,-0.11) (2002.11,-0.14) (2002.28,-0.10) (2002.44,-0.06) (2002.61,0.0) (2002.76,-0.04) (2002.94,-0.11) (2003.11,-0.17) (2003.28,-0.15) (2003.44,-0.11) (2003.61,-0.06) (2003.78,-0.04) (2003.94,-0.11) (2004.11,-0.21) (2004.22,-0.25) (2004.36,-0.17) (2004.5,-0.08) (2004.64,0.01) (2004.78,0.0) (2004.94,0.0) (2005.11,-0.08) (2005.24,-0.13) (2005.39,-0.11) (2005.53,-0.04) (2005.67,0.03) (2005.83,0.06) (2006.0,0.03) (2006.13,-0.11) (2006.24,-0.18) (2006.39,-0.06) (2006.56,0.08) (2006.69,0.17) (2006.8,0.20) (2006.94,0.08) (2007.09,-0.01) (2007.22,-0.07) (2007.39,-0.01) (2007.56,0.08) (2007.69,0.10) (2007.83,0.08) (2007.98,0.0) (2008.11,-0.11) (2008.24,-0.14) (2008.36,-0.08) (2008.44,0.03) (2008.56,0.20) (2008.67,0.21) (2008.76,0.20)};
\addplot[cRICH, ln] coordinates {(1987.04,-0.05) (1987.17,-0.03) (1987.28,-0.11) (1987.44,-0.01) (1987.56,0.06) (1987.69,0.07) (1987.8,0.04) (1987.94,0.08) (1988.09,-0.04) (1988.22,-0.14) (1988.36,-0.11) (1988.5,-0.08) (1988.61,-0.06) (1988.72,0.06) (1988.8,0.28) (1988.89,0.31) (1989.0,0.28) (1989.11,0.34) (1989.22,0.39) (1989.31,0.53) (1989.39,0.66) (1989.47,0.62) (1989.56,0.39) (1989.67,0.21) (1989.78,0.28) (1989.91,0.32) (1990.06,0.41) (1990.2,0.45) (1990.33,0.31) (1990.5,0.15) (1990.67,0.17) (1990.83,0.17) (1991.0,0.15) (1991.17,0.14) (1991.31,0.08) (1991.44,-0.01) (1991.56,-0.10) (1991.67,-0.01) (1991.8,0.17) (1991.94,0.08) (1992.13,0.25) (1992.24,0.33) (1992.36,0.31) (1992.47,0.10) (1992.56,0.28) (1992.67,0.22) (1992.8,-0.01) (1992.94,-0.01) (1993.09,0.0) (1993.22,0.17) (1993.33,0.11) (1993.44,-0.03) (1993.61,0.01) (1993.78,0.04) (1993.94,0.01) (1994.11,-0.03) (1994.28,0.0) (1994.44,0.01) (1994.61,0.10) (1994.78,0.13) (1994.94,0.08) (1995.06,0.04) (1995.22,-0.14) (1995.33,-0.27) (1995.47,-0.15) (1995.58,0.04) (1995.69,0.13) (1995.8,0.01) (1995.89,-0.08) (1996.06,-0.11) (1996.22,-0.13) (1996.33,-0.15) (1996.44,-0.11) (1996.58,-0.04) (1996.72,-0.08) (1996.89,-0.08) (1997.06,-0.11) (1997.24,-0.08) (1997.39,0.04) (1997.5,0.09) (1997.61,0.01) (1997.76,0.03) (1997.89,-0.06) (1998.06,-0.11) (1998.22,-0.10) (1998.39,-0.10) (1998.5,0.06) (1998.67,0.11) (1998.8,0.0) (1998.94,-0.11) (1999.11,-0.14) (1999.28,-0.11) (1999.42,0.04) (1999.53,0.10) (1999.67,0.04) (1999.83,-0.06) (1999.98,-0.14) (2000.17,-0.14) (2000.33,0.01) (2000.47,0.13) (2000.61,0.11) (2000.76,0.03) (2000.89,-0.08) (2001.02,-0.14) (2001.17,-0.08) (2001.31,0.07) (2001.42,0.06) (2001.51,0.13) (2001.62,0.0) (2001.76,-0.03) (2001.91,-0.22) (2002.02,-0.17) (2002.17,-0.08) (2002.31,-0.06) (2002.47,0.09) (2002.61,0.06) (2002.76,0.03) (2002.91,-0.01) (2003.06,-0.04) (2003.17,0.11) (2003.28,0.28) (2003.39,0.32) (2003.5,0.34) (2003.61,0.28) (2003.72,0.11) (2003.83,0.03) (2004.0,0.06) (2004.17,0.03) (2004.33,0.11) (2004.5,0.14) (2004.72,0.22) (2004.89,0.15) (2005.06,0.08) (2005.2,0.14) (2005.33,0.28) (2005.47,0.36) (2005.58,0.28) (2005.69,0.29) (2005.8,0.35) (2005.89,0.25) (2005.98,0.13) (2006.13,0.14) (2006.31,0.15) (2006.44,0.31) (2006.58,0.37) (2006.72,0.35) (2006.87,0.31) (2007.0,0.22) (2007.13,0.13) (2007.24,0.10) (2007.39,0.25) (2007.53,0.39) (2007.67,0.38) (2007.8,0.35) (2007.94,0.20) (2008.09,0.10) (2008.22,0.13) (2008.36,0.25) (2008.5,0.36) (2008.61,0.38) (2008.72,0.34)};
\addplot[cRSS, line width=1.2pt] coordinates {(1987.0,0) (2008.8,0)};
\addplot[tri, cTri] coordinates {(1994.85,-1.47) (1995.77,-1.47)};
\addplot[tri, cYel] coordinates {(1995.89,-1.47)};
\end{axis}
% ---------------- TTS trends
\begin{axis}[tr, at={(571.5pt,22pt)}, ymin=-250, ymax=50,
  ytick={-250,-200,-150,-100,-50,0,50}, yticklabels={\botlab{-250},-200,-150,-100,-50,0,\toplab{50}},
  minor ytick={-240,-230,...,40}]
\addplot[dm, cUAH] coordinates {(1,0)};
\addplot[dm, cRSS] coordinates {(1,0)};
\addplot[dm, cBG] coordinates {(2,0)};
\addplot[dm, cRS] coordinates {(3,0)};
\addplot[dm, cRAOB] coordinates {(3,0)};
\addplot[dm, cRICH] coordinates {(3,0)};
\end{axis}
% ---------------- texts
\node[font=\fs{19}] at (283.75pt,422.5pt) {TLS - 1979-2008};
\node[font=\comicfont\fs{21}] at (427.5pt,421.5pt) {ca. 100 hPa};
\node[font=\fs{19}] at (603.5pt,422.5pt) {1979-2008};
\node[font=\fs{15}] at (283.5pt,214pt) {91413 diff\ \ 9.48/ 138.08 00 UTC};
\node[font=\fs{15}] at (603.5pt,214pt) {Trends};
\node[font=\fs{19}] at (283.5pt,185pt) {TTS - 1979-2008};
\node[font=\fs{19}] at (603.5pt,185pt) {1987-2008};
\node[font=\fs{15}, rotate=90] at (25pt,334pt) {Anomaly/Kelvin};
\node[font=\fs{15}, rotate=90] at (12.5pt,96.5pt) {Anomaly/Kelvin};
\end{tikzpicture}
\end{document}
